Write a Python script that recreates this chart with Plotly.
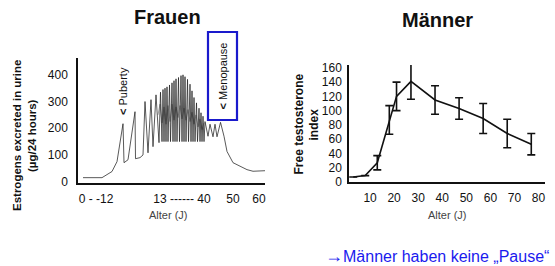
import plotly.graph_objects as go

W, H = 555, 266

# ---------------- Data: Frauen (schematic, axis position units) ----------------
fr_pos = [5, 24, 34, 39, 45, 46, 50, 57, 57.5, 62, 65, 67, 70, 73, 75, 78, 81,
          82.5, 84, 85, 86, 87, 88, 89, 90, 91.5, 92.5, 94, 95, 96, 97, 98, 99,
          100.5, 101.5, 103, 104, 105, 106, 107, 108, 109.5, 110.5, 112, 113,
          114, 115, 116, 117, 118.5, 119.5, 121, 122, 123, 124, 125, 126,
          127, 130, 132, 135, 137, 139, 142.5, 146, 149, 155, 162, 169, 175, 182, 187]
fr_val = [15, 15, 38, 75, 217, 71, 82, 262, 86, 90, 100, 300, 108, 307, 131, 325, 146,
          335, 150, 345, 150, 350, 150, 355, 150, 362, 150, 370, 150, 378, 150, 385,
          150, 390, 150, 397, 150, 400, 150, 393, 150, 383, 150, 365, 150,
          340, 150, 315, 150, 295, 150, 275, 150, 258, 150, 245, 150,
          225, 170, 215, 168, 215, 168, 222, 170, 113, 71, 57, 45, 39, 39, 41]

fr_mid_pos = [80, 82, 84, 86, 88, 90, 92, 94, 96, 98, 100, 102, 104, 106, 108,
              110, 112, 114, 116, 118, 120, 122, 124, 126]
fr_mid_val = [250, 290, 220, 280, 215, 285, 225, 290, 230, 280, 240, 285, 235, 275,
              230, 270, 225, 260, 215, 250, 205, 235, 195, 220]

fr_tick_pos = [18, 104, 155, 181]
fr_tick_text = ["0 - -12", "13 ------ 40", "50", "60"]
fr_y_ticks = [0, 100, 200, 300, 400]

# ---------------- Data: Männer ----------------
m_age = [3, 8, 13, 18, 21, 27, 37, 47, 57, 67, 77]
m_val = [7, 9, 27, 87, 120, 141, 115, 103, 89, 68, 53]
m_err = [0, 0, 10, 20, 20, 25, 20, 15, 21, 20, 15]
m_x_ticks = [10, 20, 30, 40, 50, 60, 70, 80]
m_y_ticks = [0, 20, 40, 60, 80, 100, 120, 140, 160]


def px(x):
    return x / W


def py(y):
    return 1 - y / H


fig = go.Figure()

fig.add_trace(go.Scatter(x=fr_mid_pos, y=fr_mid_val, mode="lines",
                         line=dict(color="#777777", width=0.7),
                         xaxis="x", yaxis="y", showlegend=False, hoverinfo="skip"))
fig.add_trace(go.Scatter(x=fr_pos, y=fr_val, mode="lines",
                         line=dict(color="#222222", width=0.75),
                         xaxis="x", yaxis="y", showlegend=False))

fig.add_trace(go.Scatter(x=m_age, y=m_val, mode="lines",
                         line=dict(color="#111111", width=1.6),
                         error_y=dict(type="data", array=m_err, visible=True,
                                      color="#111111", thickness=1.6, width=4),
                         xaxis="x2", yaxis="y2", showlegend=False))

FONT = "Liberation Sans, Arial, sans-serif"
tickfont = dict(family=FONT, size=12, color="#111111")

fig.update_layout(
    width=W, height=H, autosize=False,
    margin=dict(l=0, r=0, t=0, b=0),
    paper_bgcolor="white", plot_bgcolor="white",
    xaxis=dict(domain=[px(78), px(265)], range=[0, 187],
               tickvals=fr_tick_pos, ticktext=fr_tick_text, tickfont=tickfont,
               showgrid=False, zeroline=False, showline=True, linecolor="#111111",
               linewidth=1.8, ticks="outside", ticklen=4, tickcolor="white",
               anchor="y", automargin=False),
    yaxis=dict(domain=[py(183), py(58)], range=[-5, 463],
               tickvals=fr_y_ticks, tickfont=tickfont,
               showgrid=False, zeroline=False, showline=True, linecolor="#111111",
               linewidth=1.5, ticks="outside", ticklen=6, tickcolor="white",
               anchor="x", automargin=False),
    xaxis2=dict(domain=[px(349), px(545)], range=[1.25, 82.7],
                tickvals=m_x_ticks, tickfont=tickfont,
                showgrid=False, zeroline=False, showline=True, linecolor="#111111",
                linewidth=1.8, ticks="outside", ticklen=4, tickcolor="white",
                anchor="y2", automargin=False),
    yaxis2=dict(domain=[py(182), py(65)], range=[0, 164],
                tickvals=m_y_ticks, tickfont=tickfont,
                showgrid=False, zeroline=False, showline=True, linecolor="#111111",
                linewidth=1.5, ticks="outside", ticklen=3, tickcolor="white",
                anchor="x2", automargin=False),
)

ann = []


def add_text(x, y, text, size, color="#111111", angle=0, weight="bold", xanchor="center"):
    ann.append(dict(x=px(x), y=py(y), xref="paper", yref="paper", text=text,
                    showarrow=False, textangle=angle, xanchor=xanchor, yanchor="middle",
                    font=dict(family=FONT, size=size, color=color, weight=weight)))


add_text(167.5, 17, "Frauen", 20)
add_text(437.5, 19.5, "Männer", 20)
add_text(17, 136, "Estrogens excreted in urine", 11.5, angle=-90)
add_text(32, 136, "(µg/24 hours)", 11.5, angle=-90)
add_text(298, 124.5, "Free testosterone", 12, angle=-90)
add_text(313, 124.5, "index", 12, angle=-90)
add_text(168, 215, "Alter (J)", 11, color="#444444", weight="normal")
add_text(447, 215, "Alter (J)", 11, color="#444444", weight="normal")
add_text(123, 91, "<b>&lt;</b> Puberty", 11, angle=-90, weight="normal")
add_text(222.5, 76, "<b>&lt;</b> Menopause", 11, angle=-90, weight="normal")
add_text(551, 256, "<span style='font-size:18px'>→</span>Männer haben keine „Pause“",
         16, color="#1a1aee", weight="normal", xanchor="right")

fig.update_layout(annotations=ann)

fig.add_shape(type="rect", xref="paper", yref="paper",
              x0=px(208), x1=px(237), y0=py(120), y1=py(32),
              line=dict(color="#1a1acc", width=2.2), fillcolor="rgba(0,0,0,0)")

fig.write_html("out.html",
               config={"displayModeBar": False},
               post_script="document.body.style.margin='0';document.body.style.overflow='hidden';")
